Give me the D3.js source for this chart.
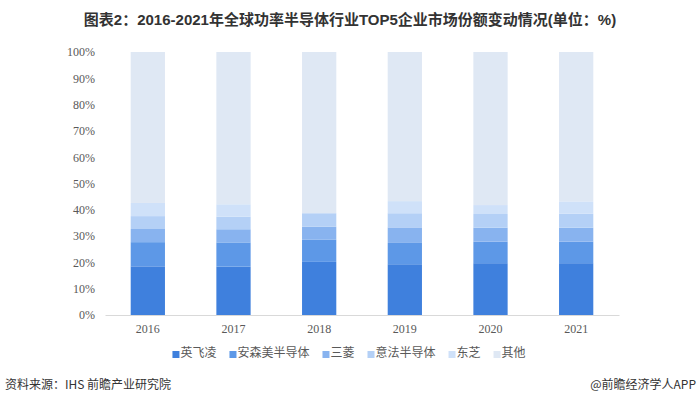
<!DOCTYPE html>
<html><head><meta charset="utf-8">
<script src="https://cdn.jsdelivr.net/npm/d3@7"></script>
<style>
html,body{margin:0;padding:0;background:#fff;}
svg{display:block;}
</style></head>
<body><svg id="c" width="700" height="405"></svg>
<script>
const years = ["2016","2017","2018","2019","2020","2021"];
const seriesNames = ["英飞凌","安森美半导体","三菱","意法半导体","东芝","其他"];
const infineon   = [18.5, 18.4, 20.2, 19.3, 19.7, 19.7];
const onsemi     = [ 9.2,  9.2,  8.4,  8.1,  8.2,  8.2];
const mitsubishi = [ 5.0,  5.0,  5.0,  5.9,  5.3,  5.3];
const st         = [ 4.9,  4.8,  5.1,  5.4,  5.2,  5.3];
const toshiba    = [ 5.0,  4.7,  0.0,  4.6,  3.4,  4.7];
const others     = [57.4, 57.9, 61.3, 56.7, 58.2, 56.8];
const yTicks = [0,10,20,30,40,50,60,70,80,90,100];
const colors = ["#3f80dd","#5d98e7","#88b3ef","#b4d0f6","#cfe1f9","#dfe8f4"];

const svg = d3.select("#c");
const allSeries = [infineon, onsemi, mitsubishi, st, toshiba, others];
const table = years.map((y,i)=>{const o={year:y}; seriesNames.forEach((n,k)=>o[n]=allSeries[k][i]); return o;});
const stack = d3.stack().keys(seriesNames)(table);

const x = d3.scaleBand().domain(years).range([105,619]).paddingInner(0.6).paddingOuter(0.3);
const y = d3.scaleLinear().domain([0,100]).range([315,52]);

// title
svg.append("text").attr("x",350).attr("y",25).attr("text-anchor","middle")
  .style("font-family","'Liberation Sans Narrow','Liberation Sans','Noto Sans CJK SC',sans-serif")
  .style("font-size","15px").style("font-weight","bold").attr("fill","#333")
  .text("图表2：2016-2021年全球功率半导体行业TOP5企业市场份额变动情况(单位：%)");

// bars
svg.append("g").selectAll("g").data(stack).join("g").attr("fill",(d,i)=>colors[i])
  .selectAll("rect").data(d=>d).join("rect")
  .attr("x",d=>x(d.data.year)).attr("width",x.bandwidth())
  .attr("y",d=>y(d[1])).attr("height",d=>y(d[0])-y(d[1]));

// y axis
const ya = svg.append("g").attr("transform","translate(105,0)")
  .call(d3.axisLeft(y).tickValues(yTicks).tickFormat(d=>d+"%").tickSize(0).tickPadding(10));
ya.select(".domain").remove();
ya.selectAll("text").style("font-family","'Liberation Serif','DejaVu Serif',serif").style("font-size","12px").attr("fill","#595959");

// x axis
const xa = svg.append("g").attr("transform","translate(0,315)")
  .call(d3.axisBottom(x).tickSize(0).tickPadding(9));
xa.select(".domain").attr("stroke","#d9d9d9");
xa.selectAll("text").style("font-family","'Liberation Serif','DejaVu Serif',serif").style("font-size","12px").attr("fill","#595959");

// legend
const lg = svg.append("g");
let cx = 0;
const gap = 13;
seriesNames.forEach((n,i)=>{
  const g = lg.append("g");
  g.append("rect").attr("x",0).attr("y",-6).attr("width",7).attr("height",7).attr("fill",colors[i]);
  const t = g.append("text").attr("x",8).attr("y",0)
    .style("font-family","'Noto Sans CJK SC',sans-serif").style("font-size","12px").attr("fill","#595959").text(n);
  const w = 8 + t.node().getComputedTextLength();
  g.attr("transform",`translate(${cx},0)`);
  cx += w + gap;
});
const total = cx - gap;
lg.attr("transform",`translate(${349 - total/2},357)`);

// footer
svg.append("text").attr("x",5).attr("y",389)
  .style("font-family","'Noto Sans CJK SC',sans-serif").style("font-size","12px").attr("fill","#333")
  .text("资料来源：IHS 前瞻产业研究院");
svg.append("text").attr("x",696).attr("y",389).attr("text-anchor","end")
  .style("font-family","'Noto Sans CJK SC',sans-serif").style("font-size","12px").attr("fill","#333")
  .text("@前瞻经济学人APP");
</script></body></html>
